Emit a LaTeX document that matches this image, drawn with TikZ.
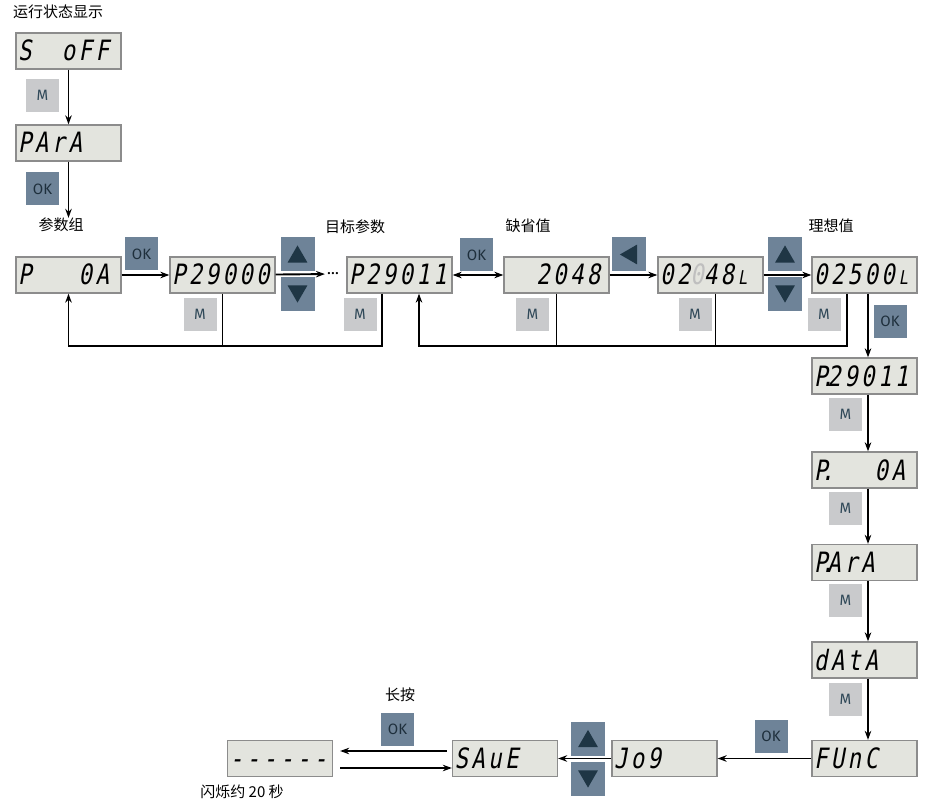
\documentclass[tikz,border=0pt]{standalone}
\usepackage{fontspec}
\usetikzlibrary{arrows.meta,shapes.geometric}
\newfontfamily\segfont[FakeSlant=0.18,FakeStretch=0.8,LetterSpace=12]{DejaVu Sans Mono}
\newfontfamily\cjkfont{Noto Sans CJK SC}
\newfontfamily\btnfont{Fira Sans}
\definecolor{boxfill}{HTML}{E3E4DE}
\definecolor{boxline}{HTML}{8C8C8C}
\definecolor{mfill}{HTML}{C9CACC}
\definecolor{mtext}{HTML}{2F4858}
\definecolor{okfill}{HTML}{6E8398}
\definecolor{oktext}{HTML}{1E2F3C}
\definecolor{tricol}{HTML}{1F3645}
\newcommand{\smallL}{\kern4pt{\fontsize{19}{19}\selectfont L}}
\newcommand{\dotp}{\makebox[0pt]{.}}
\begin{document}
\begin{tikzpicture}[x=1pt,y=-1pt,
  disp/.style={draw=boxline, fill=boxfill, line width=1.3pt, minimum width=105pt, minimum height=36pt,
    inner xsep=2pt, inner ysep=0pt, text width=101pt, align=left, text height=20pt, text depth=0pt,
    font=\segfont\fontsize{28}{28}\selectfont},
  mbtn/.style={fill=mfill, minimum width=33pt, minimum height=33pt, inner sep=0pt, text=mtext,
    font=\btnfont\fontsize{15}{15}\selectfont},
  okbtn/.style={mbtn, fill=okfill, text=oktext},
  keybtn/.style={fill=okfill, minimum width=34pt, minimum height=34pt, inner sep=0pt},
  tri/.style={regular polygon, regular polygon sides=3, fill=tricol, minimum size=23pt, inner sep=0pt},
  lbl/.style={inner sep=0pt, font=\cjkfont\fontsize{15}{15}\selectfont},
  ln/.style={line width=1.9pt},
  arr/.style={line width=1.9pt, -{Stealth[length=9pt,width=6.5pt]}},
  darr/.style={line width=1.9pt, {Stealth[length=9pt,width=6.5pt]}-{Stealth[length=9pt,width=6.5pt]}}
]
\useasboundingbox (0,0) rectangle (934,810);

% labels
\node[lbl] (lt) at (58,12) {运行状态显示};
\node[lbl] (lA) at (61,225) {参数组};
\node[lbl] (lB) at (355,227) {目标参数};
\node[lbl] (lC) at (528,226) {缺省值};
\node[lbl] (lD) at (831,226) {理想值};
\node[lbl] (lE) at (400,695) {长按};
\node[lbl] (lF) at (242,792) {闪烁约 20 秒};

% displays
\node[disp] (d1) at (68.5,51) {S\phantom{00}oFF};
\node[disp] (d2) at (68.5,143) {PArA};
\node[disp] (r1) at (68.5,275) {P\phantom{000}0A};
\node[disp] (r2) at (222.5,275) {P29000};
\node[disp] (r3) at (399.5,275) {P29011};
\node[disp] (r4) at (556.5,275) {\phantom{00}2048};
\node[disp] (r5) at (710.5,275) {02\textcolor{black!25}{0}48\smallL};
\node[disp] (r6) at (864.5,275) {02500\smallL};
\node[disp] (v1) at (864.5,376) {P\dotp29011};
\node[disp] (v2) at (864.5,470) {P\dotp\phantom{000}0A};
\node[disp] (v3) at (864.5,562.5) {P\dotp ArA};
\node[disp] (v4) at (864.5,660) {dAtA};
\node[disp] (v5) at (864.5,758.5) {FUnC};
\node[disp] (b3) at (664.5,758.5) {Jo9};
\node[disp] (b2) at (505,758.5) {SAuE};
\node[disp] (b1) at (280,758.5) {-{}-{}-{}-{}-{}-};
\node[inner sep=2pt, font=\btnfont\fontsize{16}{16}\selectfont] (dots) at (333,274) {…};

% buttons
\node[mbtn] (m1) at (42.5,95.5) {M};
\node[okbtn] (k1) at (42.5,189) {OK};
\node[okbtn] (k2) at (141.5,254) {OK};
\node[mbtn] (m2) at (200,314.5) {M};
\node[mbtn] (m3) at (360,314.5) {M};
\node[okbtn] (k3) at (476.5,255) {OK};
\node[mbtn] (m4) at (532.5,314.5) {M};
\node[mbtn] (m5) at (695,314.5) {M};
\node[mbtn] (m6) at (824,314.5) {M};
\node[okbtn] (k4) at (890,321.5) {OK};
\node[mbtn] (m7) at (845.5,414) {M};
\node[mbtn] (m8) at (845.5,508.5) {M};
\node[mbtn] (m9) at (845.5,600.5) {M};
\node[mbtn] (m10) at (845.5,699.5) {M};
\node[okbtn] (k5) at (771,736) {OK};
\node[okbtn] (k6) at (397.5,729) {OK};

% arrow keys
\node[keybtn] (u1) at (297.5,254) {};
\node[keybtn] (w1) at (297.5,294) {};
\node[tri] (tu1) at (297.5,256.9) {};
\node[tri, rotate=180] (tw1) at (297.5,291.1) {};
\node[keybtn] (lk) at (628.5,254.5) {};
\node[tri, rotate=90] (tl) at (631.4,254.5) {};
\node[keybtn] (u2) at (785,254) {};
\node[keybtn] (w2) at (785,294) {};
\node[tri] (tu2) at (785,256.9) {};
\node[tri, rotate=180] (tw2) at (785,291.1) {};
\node[keybtn] (u3) at (588,738.5) {};
\node[keybtn] (w3) at (588,779) {};
\node[tri] (tu3) at (588,741.4) {};
\node[tri, rotate=180] (tw3) at (588,776.1) {};

% connectors
\draw[arr] (d1) -- (d2);
\draw[arr] (d2.south) -- (d2.south |- lA.north);
\draw[arr] (r1) -- (r2);
\draw[arr] (r2) -- (dots);
\draw[darr] (r3) -- (r4);
\draw[arr] (r4) -- (r5);
\draw[arr] (r5) -- (r6);
\draw[arr] ([xshift=3.5pt]r6.south) -- ([xshift=3.5pt]v1.north);
\draw[arr] ([xshift=3.5pt]v1.south) -- ([xshift=3.5pt]v2.north);
\draw[arr] ([xshift=3.5pt]v2.south) -- ([xshift=3.5pt]v3.north);
\draw[arr] ([xshift=3.5pt]v3.south) -- ([xshift=3.5pt]v4.north);
\draw[arr] ([xshift=3.5pt]v4.south) -- ([xshift=3.5pt]v5.north);
\draw[arr] (v5) -- (b3);
\draw[arr] (b3) -- (b2);
\draw[arr] ([yshift=7.5pt,xshift=-5pt]b2.west) -- ([yshift=7.5pt,xshift=7pt]b1.east);
\draw[arr] ([yshift=-9.5pt,xshift=7pt]b1.east) -- ([yshift=-9.5pt]b2.west);

% feedback loops
\coordinate (fb) at (0,346);
\draw[ln] (r2.south) -- (r2.south |- fb);
\draw[arr] ([xshift=-17.5pt]r3.south) |- (r1.south |- fb) -- (r1.south);
\draw[ln] (r4.south) -- (r4.south |- fb);
\draw[ln] ([xshift=5pt]r5.south) -- ([xshift=5pt]r5.south |- fb);
\draw[arr] ([xshift=-17.5pt]r6.south) |- ([xshift=19.5pt]r3.south |- fb) -- ([xshift=19.5pt]r3.south);
\end{tikzpicture}
\end{document}
